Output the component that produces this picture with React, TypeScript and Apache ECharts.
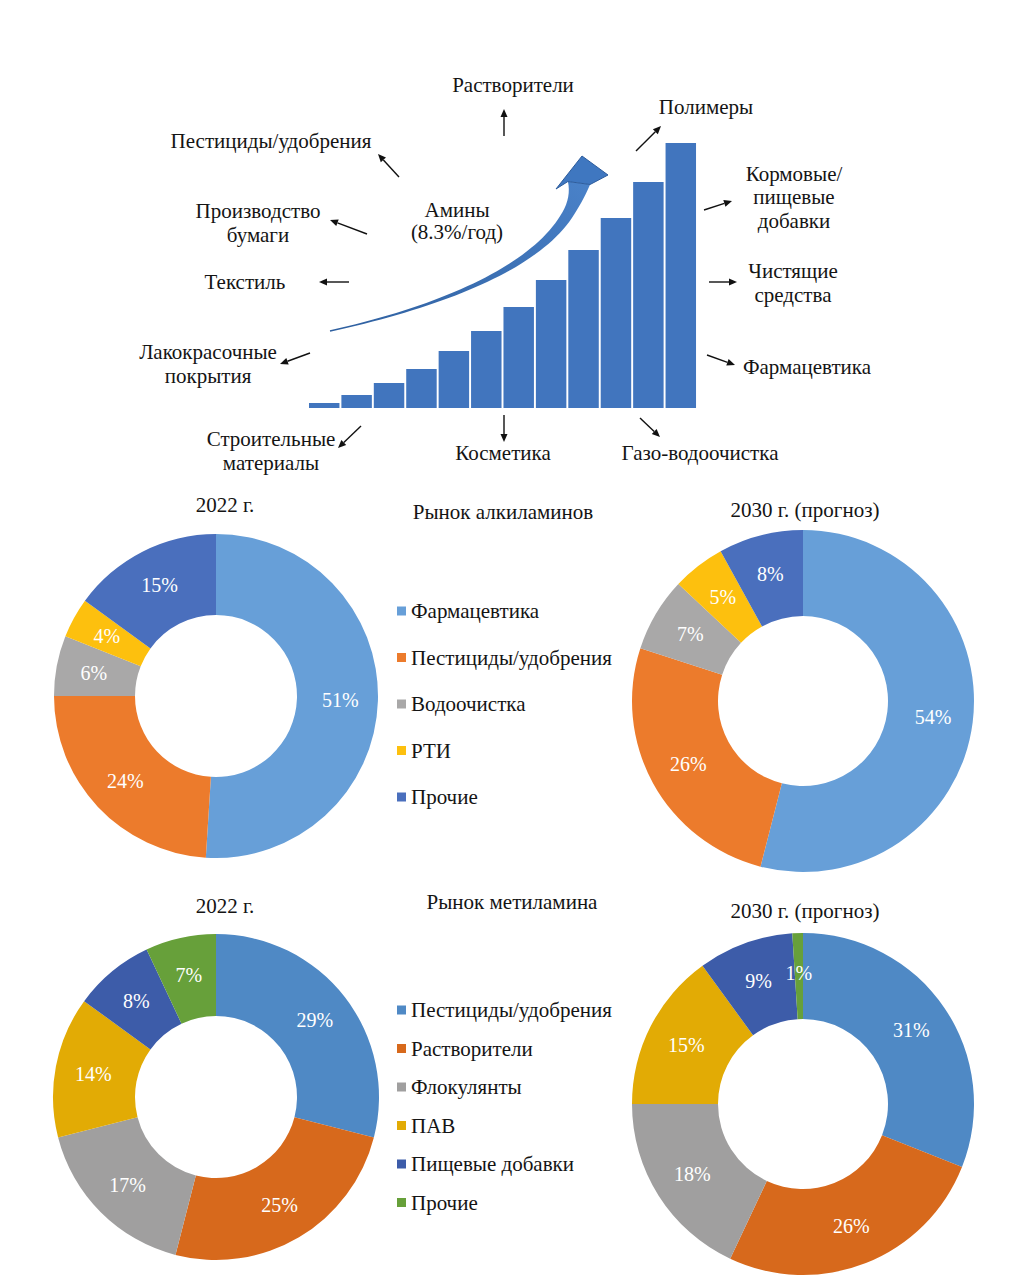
import React, { useEffect, useRef } from "react";
import * as echarts from "echarts";

// ---------- DATA ----------
const growthCategories = ["1", "2", "3", "4", "5", "6", "7", "8", "9", "10", "11", "12"];
const growthValues = [5, 13, 25, 39, 57, 77, 101, 128, 158, 190, 226, 265];

const alkNames = ["Фармацевтика", "Пестициды/удобрения", "Водоочистка", "РТИ", "Прочие"];
const alkColors = ["#679fd8", "#ec7b2c", "#a9a8a8", "#fdc00e", "#4a6fbd"];
const alk2022 = [51, 24, 6, 4, 15];
const alk2030 = [54, 26, 7, 5, 8];

const metNames = ["Пестициды/удобрения", "Растворители", "Флокулянты", "ПАВ", "Пищевые добавки", "Прочие"];
const metColors = ["#4f89c5", "#d7691c", "#a09f9f", "#e2ab05", "#3d5ca9", "#67a03a"];
const met2022 = [29, 25, 17, 14, 8, 7];
const met2030 = [31, 26, 18, 15, 9, 1];

const FONT = '"Liberation Serif", "Times New Roman", serif';
const TXT = "#141414";
const FS = 21;

function label(text: string, x: number, y: number, lh = 24) {
  return {
    type: "text",
    silent: true,
    style: {
      text,
      x,
      y,
      align: "center",
      verticalAlign: "middle",
      fontFamily: FONT,
      fontSize: FS,
      lineHeight: lh,
      fill: TXT,
    },
  };
}

function arrow(x1: number, y1: number, x2: number, y2: number) {
  const dx = x2 - x1;
  const dy = y2 - y1;
  const len = Math.sqrt(dx * dx + dy * dy);
  const ux = dx / len;
  const uy = dy / len;
  const nx = -uy;
  const ny = ux;
  const hl = 8;
  const hw = 3.5;
  const bx = x2 - ux * hl;
  const by = y2 - uy * hl;
  return {
    type: "group",
    silent: true,
    children: [
      {
        type: "line",
        shape: { x1, y1, x2: bx, y2: by },
        style: { stroke: "#111", lineWidth: 1.4 },
      },
      {
        type: "polygon",
        shape: {
          points: [
            [x2, y2],
            [bx + nx * hw, by + ny * hw],
            [bx - nx * hw, by - ny * hw],
          ],
        },
        style: { fill: "#111" },
      },
    ],
  };
}

function curvedArrow() {
  const P0 = [330, 331];
  const P1 = [470, 300];
  const P2 = [570, 250];
  const P3 = [579, 183];
  const N = 48;
  const left: number[][] = [];
  const right: number[][] = [];
  for (let i = 0; i <= N; i++) {
    const t = i / N;
    const a = (1 - t) * (1 - t) * (1 - t);
    const b = 3 * (1 - t) * (1 - t) * t;
    const c = 3 * (1 - t) * t * t;
    const d = t * t * t;
    const x = a * P0[0] + b * P1[0] + c * P2[0] + d * P3[0];
    const y = a * P0[1] + b * P1[1] + c * P2[1] + d * P3[1];
    const dxt = 3 * (1 - t) * (1 - t) * (P1[0] - P0[0]) + 6 * (1 - t) * t * (P2[0] - P1[0]) + 3 * t * t * (P3[0] - P2[0]);
    const dyt = 3 * (1 - t) * (1 - t) * (P1[1] - P0[1]) + 6 * (1 - t) * t * (P2[1] - P1[1]) + 3 * t * t * (P3[1] - P2[1]);
    const l = Math.sqrt(dxt * dxt + dyt * dyt);
    const tx = dxt / l;
    const ty = dyt / l;
    const nx = -ty;
    const ny = tx;
    const flare = t > 0.85 ? 8 * Math.pow((t - 0.85) / 0.15, 2) : 0;
    const w = (1.4 + 13 * Math.pow(t, 1.6) + flare) / 2;
    left.push([x + nx * w, y + ny * w]);
    right.push([x - nx * w, y - ny * w]);
  }
  const endL = left[left.length - 1];
  const endR = right[right.length - 1];
  const body = left.concat(right.slice().reverse());
  const head = [
    [P3[0] + 3, P3[1] - 27],
    [P3[0] + 29, P3[1] - 8],
    endL[0] > endR[0] ? endL : endR,
    endL[0] > endR[0] ? endR : endL,
    [P3[0] - 23, P3[1] + 6],
  ];
  const fill = new echarts.graphic.LinearGradient(0, 1, 1, 0, [
    { offset: 0, color: "#2e5f9f" },
    { offset: 1, color: "#4a82c9" },
  ]);
  return [
    { type: "polygon", silent: true, shape: { points: body }, style: { fill } },
    {
      type: "polygon",
      silent: true,
      shape: { points: head },
      style: { fill: "#3f77c0", stroke: "#2d5c9c", lineWidth: 1 },
    },
  ];
}

function pie(values: number[], names: string[], colors: string[], center: number[], r: number[]) {
  return {
    type: "pie",
    center,
    radius: r,
    startAngle: 90,
    clockwise: true,
    silent: true,
    avoidLabelOverlap: false,
    label: {
      show: true,
      position: "inside",
      formatter: "{c}%",
      color: "#ffffff",
      fontFamily: FONT,
      fontSize: 20,
    },
    labelLine: { show: false },
    itemStyle: { borderWidth: 0 },
    emphasis: { disabled: true },
    data: values.map((v, i) => ({ name: names[i], value: v, itemStyle: { color: colors[i] } })),
  };
}

export default function App() {
  const ref = useRef<HTMLDivElement>(null);
  useEffect(() => {
    if (!ref.current) return;
    const chart = echarts.init(ref.current, null, { renderer: "svg" });
    const legendText = { fontFamily: FONT, fontSize: FS, color: TXT, lineHeight: 22 };
    const option: any = {
      animation: false,
      backgroundColor: "#ffffff",
      grid: { left: 308, top: 143, width: 389, height: 265 },
      xAxis: { type: "category", data: growthCategories, show: false },
      yAxis: { type: "value", min: 0, max: 265, show: false },
      legend: [
        {
          orient: "vertical",
          left: 397,
          top: 600,
          padding: 0,
          itemWidth: 9,
          itemHeight: 9,
          itemGap: 24.5,
          selectedMode: false,
          icon: "rect",
          textStyle: legendText,
          data: alkNames.map((n, i) => ({ name: n, itemStyle: { color: alkColors[i] } })),
        },
        {
          orient: "vertical",
          left: 397,
          top: 999,
          padding: 0,
          itemWidth: 9,
          itemHeight: 9,
          itemGap: 16.5,
          selectedMode: false,
          icon: "rect",
          textStyle: legendText,
          data: metNames.map((n, i) => ({ name: n, itemStyle: { color: metColors[i] } })),
        },
      ],
      series: [
        {
          type: "bar",
          data: growthValues,
          barCategoryGap: "6%",
          silent: true,
          itemStyle: { color: "#4175be" },
        },
        pie(alk2022, alkNames, alkColors, [216, 696], [81, 162]),
        pie(alk2030, alkNames, alkColors, [803, 701], [85, 171]),
        pie(met2022, metNames, metColors, [216, 1097], [81, 163]),
        pie(met2030, metNames, metColors, [803, 1104], [85, 171]),
      ],
      graphic: [
        ...curvedArrow(),
        label("Растворители", 513, 85),
        arrow(504, 136, 504, 109),
        label("Полимеры", 706, 107),
        arrow(636, 151, 661, 126),
        label("Пестициды/удобрения", 271, 141),
        arrow(399, 177, 378, 154),
        label("Производство\nбумаги", 258, 223),
        arrow(367, 234, 330, 220),
        label("Амины\n(8.3%/год)", 457, 221, 22),
        label("Текстиль", 245, 282),
        arrow(349, 282, 319, 282),
        label("Лакокрасочные\nпокрытия", 208, 364),
        arrow(310, 353, 280, 364),
        label("Строительные\nматериалы", 271, 451),
        arrow(361, 426, 338, 448),
        label("Косметика", 503, 453),
        arrow(504, 415, 504, 442),
        label("Газо-водоочистка", 700, 453),
        arrow(640, 418, 660, 437),
        label("Кормовые/\nпищевые\nдобавки", 794, 197, 23.5),
        arrow(704, 210, 732, 201),
        label("Чистящие\nсредства", 793, 283),
        arrow(709, 282, 737, 282),
        label("Фармацевтика", 807, 367),
        arrow(707, 355, 735, 365),
        label("2022 г.", 225, 505),
        label("Рынок алкиламинов", 503, 512),
        label("2030 г. (прогноз)", 805, 510),
        label("2022 г.", 225, 906),
        label("Рынок метиламина", 512, 902),
        label("2030 г. (прогноз)", 805, 911),
      ],
    };
    chart.setOption(option);
    return () => chart.dispose();
  }, []);
  return (
    <div
      ref={ref}
      style={{ position: "absolute", left: 0, top: 0, width: 1033, height: 1282 }}
    />
  );
}
